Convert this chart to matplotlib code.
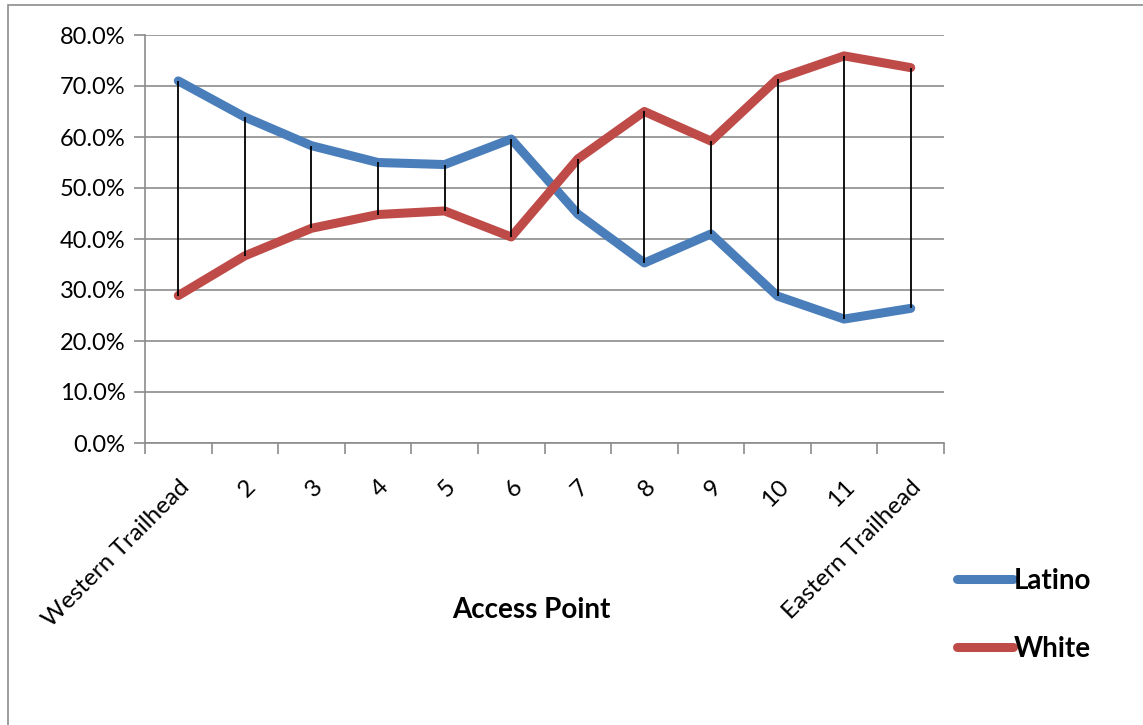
import matplotlib.pyplot as plt
from matplotlib.patches import Rectangle
from matplotlib.ticker import PercentFormatter

points = ['Western Trailhead', '2', '3', '4', '5', '6', '7', '8', '9', '10', '11',
          'Eastern Trailhead']
latino = [71.0, 63.9, 58.3, 55.0, 54.6, 59.6, 44.9, 35.3, 41.0, 28.8, 24.3, 26.4]
white = [28.9, 36.7, 42.1, 44.8, 45.5, 40.4, 55.7, 65.0, 59.2, 71.4, 75.9, 73.6]

plt.rcParams['font.family'] = ['Lato', 'DejaVu Sans']

W, H = 1143, 725
fig = plt.figure(figsize=(W / 100, H / 100), dpi=100)
ax = fig.add_axes([145 / W, 1 - 443 / H, (944 - 145) / W, (443 - 35) / H])

# outer chart frame
fig.patches.append(Rectangle((8 / W, -0.1), 1.2, 1 - 5 / H + 0.1, transform=fig.transFigure,
                             fill=False, edgecolor='#8c8c8c', linewidth=1.2))

x = list(range(len(points)))

# high-low lines between the two series
ax.vlines(x, [min(a, b) for a, b in zip(latino, white)],
          [max(a, b) for a, b in zip(latino, white)],
          colors='black', linewidth=1.3, zorder=3)

ax.plot(x, latino, color='#4A7EBB', linewidth=6.5, solid_capstyle='round',
        solid_joinstyle='round', label='Latino', zorder=2)
ax.plot(x, white, color='#BE4B48', linewidth=6.5, solid_capstyle='round',
        solid_joinstyle='round', label='White', zorder=2)

ax.set_ylim(0, 80)
ax.set_yticks(range(0, 81, 10))
ax.yaxis.set_major_formatter(PercentFormatter(decimals=1))
ax.grid(axis='y', color='#8c8c8c', linewidth=1.2)
ax.set_axisbelow(True)

ax.set_xlim(-0.5, len(points) - 0.5)
ax.set_xticks([i - 0.5 for i in range(len(points) + 1)])
ax.set_xticklabels([])
ax.set_xticks(x, minor=True)
ax.set_xticklabels(points, minor=True, rotation=45, ha='right', rotation_mode='anchor',
                   fontsize=17.5)
ax.tick_params(axis='x', which='minor', length=0, pad=24)
ax.tick_params(axis='x', which='major', length=8, color='#8c8c8c', width=1.2)
ax.tick_params(axis='y', length=8, color='#8c8c8c', width=1.2, labelsize=17, pad=6)

for side in ['top', 'right']:
    ax.spines[side].set_visible(False)
for side in ['left', 'bottom']:
    ax.spines[side].set_color('#8c8c8c')
    ax.spines[side].set_linewidth(1.2)

fig.text(531 / W, 1 - 610 / H, 'Access Point', ha='center', va='center',
         fontsize=20, fontweight='bold')

leg = fig.legend(loc='upper left', bbox_to_anchor=(932 / W, 1 - 543 / H),
                 frameon=False, handlelength=2.0, handletextpad=0.05,
                 labelspacing=1.5, prop={'size': 20, 'weight': 'bold'})
for line in leg.get_lines():
    line.set_linewidth(6.5)

fig.savefig('out.png', dpi=100)
